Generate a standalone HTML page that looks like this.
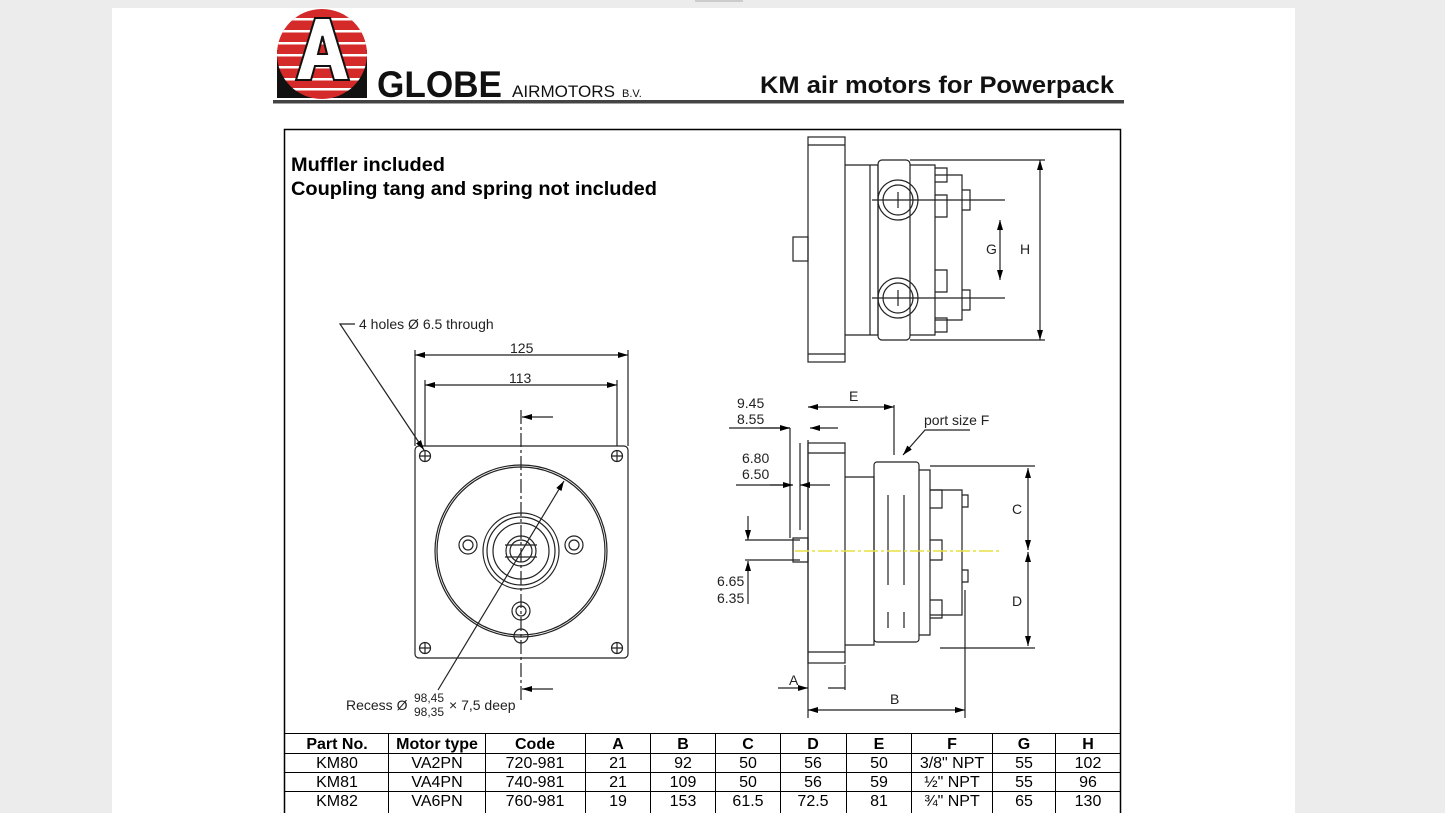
<!DOCTYPE html>
<html><head><meta charset="utf-8"><style>
body{margin:0;width:1445px;height:813px;overflow:hidden;background:#ececec;font-family:"Liberation Sans",sans-serif}
svg{position:absolute;left:0;top:0}
</style></head><body>
<svg width="1445" height="813" viewBox="0 0 1445 813" font-family="Liberation Sans, sans-serif">
<defs>
<marker id="ar" markerWidth="10" markerHeight="6" refX="10" refY="3" orient="auto-start-reverse" markerUnits="userSpaceOnUse"><path d="M0,0 L10,3 L0,6z" fill="#000"/></marker>
<clipPath id="cc"><circle cx="322" cy="54" r="45"/></clipPath>
</defs>
<rect x="112" y="8" width="1183" height="805" fill="#fff"/>
<rect x="695" y="0" width="48" height="2" fill="#ccc"/>
<!-- logo -->
<rect x="277" y="50" width="90" height="48" fill="#111"/>
<circle cx="322" cy="54" r="45" fill="#d42a2a"/>
<g clip-path="url(#cc)" fill="#fff">
<rect x="270" y="18" width="110" height="2.5"/><rect x="270" y="30" width="110" height="2.5"/><rect x="270" y="42" width="110" height="2.5"/><rect x="270" y="54" width="110" height="2.5"/><rect x="270" y="66" width="110" height="2.5"/><rect x="270" y="78" width="110" height="2.5"/><rect x="270" y="88" width="110" height="2.5"/>
</g>
<path d="M296,80 L315,18 L330,18 L349,80 L334,80 L330,66 L315,66 L311,80z M318,54 L327,54 L322.5,36z" fill="#fff" stroke="#111" stroke-width="2" fill-rule="evenodd"/>
<text x="377" y="97" font-size="37" font-weight="bold" fill="#111" textLength="125" lengthAdjust="spacingAndGlyphs">GLOBE</text>
<text x="512" y="97" font-size="17" fill="#111" textLength="103" lengthAdjust="spacingAndGlyphs">AIRMOTORS</text>
<text x="622" y="97" font-size="11" fill="#111">B.V.</text>
<text x="760" y="93" font-size="24" font-weight="bold" fill="#111" textLength="354" lengthAdjust="spacingAndGlyphs">KM air motors for Powerpack</text>
<rect x="273" y="100" width="851" height="3.5" fill="#444"/>
<!-- frame -->
<rect x="284.5" y="129.5" width="836" height="685" fill="none" stroke="#000" stroke-width="1.5"/>
<text x="291" y="171" font-size="19" font-weight="bold" textLength="154" lengthAdjust="spacingAndGlyphs">Muffler included</text>
<text x="291" y="195" font-size="19" font-weight="bold" textLength="366" lengthAdjust="spacingAndGlyphs">Coupling tang and spring not included</text>
<g fill="none" stroke="#222" stroke-width="1.2">
<!-- front view -->
<rect x="415" y="446" width="213" height="212" rx="4"/>
<circle cx="521" cy="551" r="86"/><circle cx="521" cy="551" r="84"/>
<circle cx="521" cy="551" r="38"/><circle cx="521" cy="551" r="34"/><circle cx="521" cy="551" r="28"/><circle cx="521" cy="551" r="15"/><circle cx="521" cy="551" r="11"/>
<circle cx="468" cy="545" r="9"/><circle cx="468" cy="545" r="5"/><circle cx="574" cy="545" r="9"/><circle cx="574" cy="545" r="5"/>
<circle cx="521" cy="611" r="9"/><circle cx="521" cy="611" r="5"/>
<circle cx="521" cy="636" r="7"/>
<g><circle cx="425" cy="456" r="5.5"/><circle cx="617" cy="456" r="5.5"/><circle cx="425" cy="648" r="5.5"/><circle cx="617" cy="648" r="5.5"/>
<path d="M419,456h12M425,450v12M611,456h12M617,450v12M419,648h12M425,642v12M611,648h12M617,642v12"/></g>
<path d="M521,410 V700" stroke-dasharray="14,3,3,3"/>
<path d="M415,446 V350 M628,446 V350 M425,446 V380 M617,446 V380"/>
<path d="M415,355 H628" marker-start="url(#ar)" marker-end="url(#ar)"/>
<path d="M425,385 H617" marker-start="url(#ar)" marker-end="url(#ar)"/>
<path d="M553,417 H522" marker-end="url(#ar)"/><path d="M553,689 H522" marker-end="url(#ar)"/>
<path d="M355,324 H340 L424,450" marker-end="url(#ar)"/>
<path d="M438,690 L564,481" marker-end="url(#ar)"/>
<path d="M505,545 H537 M505,557 H537"/>
<!-- top right view -->
<rect x="808" y="137" width="37" height="225"/>
<path d="M808,145 H845 M808,354 H845"/>
<rect x="793" y="237" width="15" height="24"/>
<path d="M845,165 H878 V335 H845"/>
<rect x="878" y="160" width="32" height="180" rx="4"/>
<path d="M870,165 V335 M910,165 H935 V335 H910 M935,175 H962 V320 H935"/>
<path d="M935,168 h12 v14 h-12 M935,195 h12 v22 h-12 M935,270 h12 v22 h-12 M935,318 h12 v14 h-12 M962,190 h8 v20 h-8 M962,290 h8 v20 h-8"/>
<circle cx="898" cy="200" r="20"/><circle cx="898" cy="200" r="15"/><circle cx="898" cy="298" r="20"/><circle cx="898" cy="298" r="15"/>
<path d="M890,200 h16 M898,192 v16 M890,298 h16 M898,290 v16 M872,200 H1005 M872,298 H1005 M910,160 H1045 M910,340 H1045"/>
<path d="M1000,220 V280" marker-start="url(#ar)" marker-end="url(#ar)"/>
<path d="M1040,160 V340" marker-start="url(#ar)" marker-end="url(#ar)"/>
<!-- side view -->
<rect x="808" y="443" width="37" height="220"/>
<path d="M808,453 H845 M808,652 H845"/>
<path d="M800,443 V530 M793,538 h15 v24 h-15z M745,540 H800 M745,560 H800"/>
<path d="M845,477 H874 V645 H845"/>
<rect x="874" y="462" width="45" height="180" rx="3"/>
<path d="M919,470 H930 V635 H919 M930,490 H962 V615 H930 M962,495 V610"/>
<path d="M930,490 h12 v18 h-12 M930,540 h12 v20 h-12 M930,600 h12 v18 h-12 M962,495 h6 v12 h-6 M962,570 h6 v12 h-6"/>
<path d="M888,495 V585 M904,495 V585 M888,612 V628 M904,612 V628"/>
<path d="M808,440 V718 M894,405 V455 M965,590 V718 M845,665 V690 M930,466 H1035 M940,648 H1035"/>
<path d="M808,407 H894" marker-start="url(#ar)" marker-end="url(#ar)"/>
<path d="M729,428 H790 M790,428 V538" /><path d="M760,428 H790" marker-end="url(#ar)"/><path d="M838,428 H810" marker-end="url(#ar)"/>
<path d="M736,485 H792" /><path d="M770,485 H793" marker-end="url(#ar)"/><path d="M830,485 H800" marker-end="url(#ar)"/>
<path d="M748,516 V540" marker-end="url(#ar)"/><path d="M748,604 V561" marker-end="url(#ar)"/>
<path d="M778,688 H808" marker-end="url(#ar)"/><path d="M845,688 H828" />
<path d="M808,710 H965" marker-start="url(#ar)" marker-end="url(#ar)"/>
<path d="M1028,468 V550" marker-start="url(#ar)" marker-end="url(#ar)"/>
<path d="M1028,552 V646" marker-start="url(#ar)" marker-end="url(#ar)"/>
<path d="M970,430 H925 L903,455" marker-end="url(#ar)"/>
</g>
<path d="M795,551 H1000" stroke="#e6e040" stroke-width="1.5" stroke-dasharray="14,3,3,3"/>
<g font-size="14" fill="#222">
<text x="359" y="329">4 holes Ø 6.5 through</text>
<text x="510" y="353">125</text><text x="509" y="383">113</text>
<text x="346" y="710">Recess Ø</text><text x="414" y="702" font-size="12">98,45</text><text x="414" y="716" font-size="12">98,35</text><text x="449" y="710">× 7,5 deep</text>
<text x="986" y="254">G</text><text x="1020" y="254">H</text>
<text x="737" y="408">9.45</text><text x="737" y="424">8.55</text>
<text x="742" y="463">6.80</text><text x="742" y="479">6.50</text>
<text x="717" y="586">6.65</text><text x="717" y="603">6.35</text>
<text x="849" y="401">E</text><text x="924" y="425">port size F</text>
<text x="1012" y="514">C</text><text x="1012" y="606">D</text>
<text x="789" y="685">A</text><text x="890" y="704">B</text>
</g>
<!-- table -->
<g stroke="#000" stroke-width="1" fill="none">
<path d="M285,733.5 H1120 M285,753.5 H1120 M285,772.5 H1120 M285,791.5 H1120"/>
<path d="M388.5,733 V813 M485.5,733 V813 M585.5,733 V813 M650.5,733 V813 M715.5,733 V813 M780.5,733 V813 M846.5,733 V813 M911.5,733 V813 M992.5,733 V813 M1055.5,733 V813"/>
</g>
<g font-size="16" text-anchor="middle" fill="#000">
<g font-weight="bold"><text x="337" y="749">Part No.</text><text x="437" y="749">Motor type</text><text x="535" y="749">Code</text><text x="618" y="749">A</text><text x="683" y="749">B</text><text x="748" y="749">C</text><text x="813" y="749">D</text><text x="879" y="749">E</text><text x="952" y="749">F</text><text x="1024" y="749">G</text><text x="1088" y="749">H</text></g>
<text x="337" y="768">KM80</text><text x="437" y="768">VA2PN</text><text x="535" y="768">720-981</text><text x="618" y="768">21</text><text x="683" y="768">92</text><text x="748" y="768">50</text><text x="813" y="768">56</text><text x="879" y="768">50</text><text x="952" y="768">3/8" NPT</text><text x="1024" y="768">55</text><text x="1088" y="768">102</text>
<text x="337" y="787">KM81</text><text x="437" y="787">VA4PN</text><text x="535" y="787">740-981</text><text x="618" y="787">21</text><text x="683" y="787">109</text><text x="748" y="787">50</text><text x="813" y="787">56</text><text x="879" y="787">59</text><text x="952" y="787">½" NPT</text><text x="1024" y="787">55</text><text x="1088" y="787">96</text>
<text x="337" y="806">KM82</text><text x="437" y="806">VA6PN</text><text x="535" y="806">760-981</text><text x="618" y="806">19</text><text x="683" y="806">153</text><text x="748" y="806">61.5</text><text x="813" y="806">72.5</text><text x="879" y="806">81</text><text x="952" y="806">¾" NPT</text><text x="1024" y="806">65</text><text x="1088" y="806">130</text>
</g>
</svg>
</body></html>
